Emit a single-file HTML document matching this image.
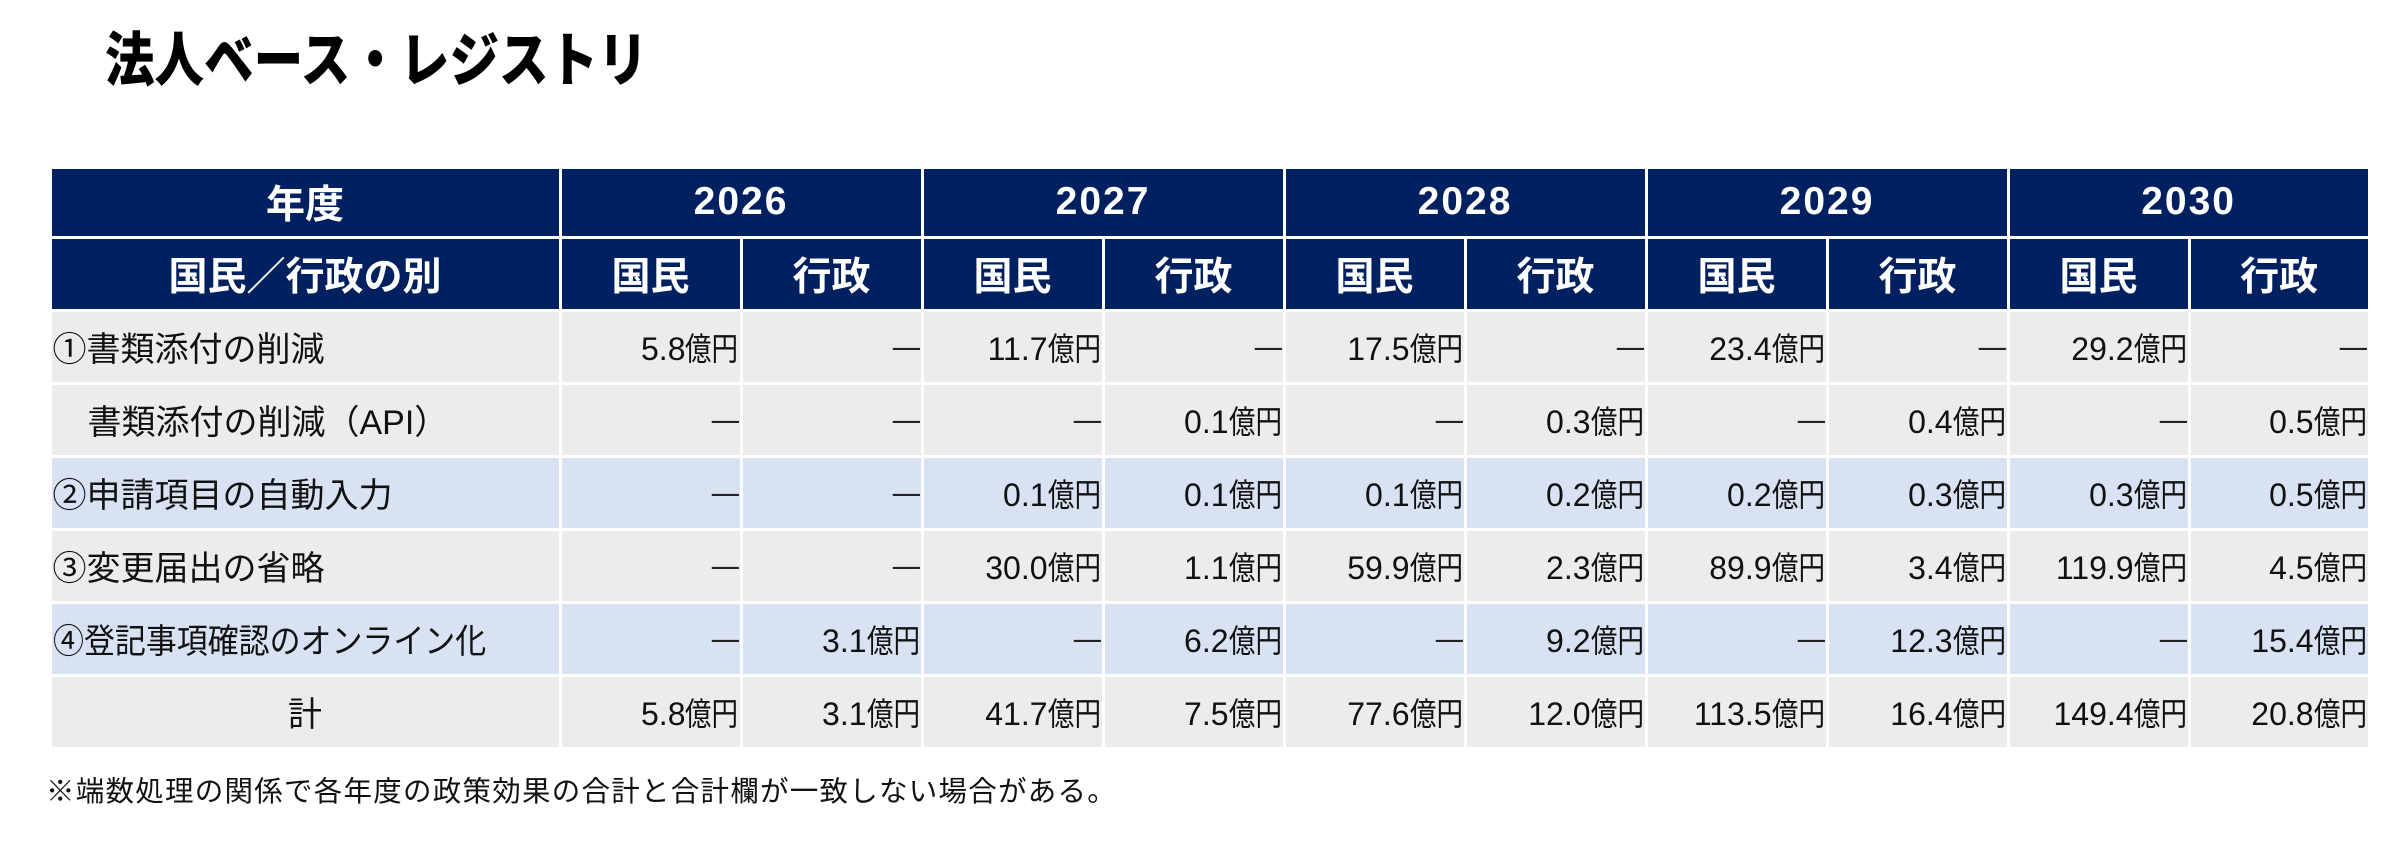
<!DOCTYPE html>
<html lang="ja">
<head>
<meta charset="utf-8">
<style>
  html, body { margin:0; padding:0; background:#ffffff; }
  body { width:2400px; height:849px; position:relative; overflow:hidden;
         font-family:"Liberation Sans","Noto Sans CJK JP",sans-serif; color:#111; }
  .title { position:absolute; left:105px; top:23px; font-family:"Liberation Sans","Noto Sans CJK JP",sans-serif;
           font-weight:900; font-size:59px; line-height:76px; white-space:nowrap; color:#000;
           transform:scaleX(0.84); transform-origin:left center; letter-spacing:0; }
  table { position:absolute; left:48.5px; top:165.5px; width:2319px; border-collapse:collapse; table-layout:fixed; }
  td { border:3px solid #ffffff; padding:0; overflow:hidden; white-space:nowrap; vertical-align:middle; }
  tr.h td { background:#002060; color:#fff; font-weight:700; text-align:center;
            font-family:"Liberation Sans","Noto Sans CJK JP",sans-serif; font-size:39px; }
  tr.h1 td { height:67px; }
  tr.h2 td { height:70px; }
  td.yr { font-family:"Liberation Sans",sans-serif; font-size:45px; letter-spacing:2px; }
  tr.d td { height:70px; background:#ececec; }
  tr.b td { background:#d9e2f3; }
  td.lab { font-family:"Liberation Sans","Noto Sans CJK JP",sans-serif; font-size:34px; text-align:left; padding-left:1px; color:#111; }
  td.ind { padding-left:36px; }
  td.ctr { text-align:center; padding-left:0; }
  .cond { display:inline-block; transform:scaleX(0.91); transform-origin:left center; }
  td.n { text-align:right; padding-right:1px; font-size:32px; color:#111; }
  .u { display:inline-block; font-family:"Noto Sans CJK JP",sans-serif; transform:scaleX(0.83); transform-origin:right center; margin-left:-11px; }
  .dash { display:inline-block; font-family:"Liberation Sans",sans-serif; font-size:32px; transform:scaleX(0.85); transform-origin:right center; color:#222; }
  .foot { position:absolute; left:46px; top:770px; font-family:"Noto Sans CJK JP",sans-serif; font-size:28.5px; line-height:40px; letter-spacing:1.25px; white-space:nowrap; color:#111; }
</style>
</head>
<body>
<div class="title">法人ベース・レジストリ</div>

<table>
  <colgroup>
    <col style="width:510px">
    <col style="width:181px"><col style="width:181px">
    <col style="width:181px"><col style="width:181px">
    <col style="width:181px"><col style="width:181px">
    <col style="width:181px"><col style="width:181px">
    <col style="width:181px"><col style="width:180px">
  </colgroup>
  <tr class="h h1">
    <td>年度</td>
    <td class="yr" colspan="2">2026</td>
    <td class="yr" colspan="2">2027</td>
    <td class="yr" colspan="2">2028</td>
    <td class="yr" colspan="2">2029</td>
    <td class="yr" colspan="2">2030</td>
  </tr>
  <tr class="h h2">
    <td>国民／行政の別</td>
    <td>国民</td><td>行政</td>
    <td>国民</td><td>行政</td>
    <td>国民</td><td>行政</td>
    <td>国民</td><td>行政</td>
    <td>国民</td><td>行政</td>
  </tr>
  <tr class="d">
    <td class="lab">①書類添付の削減</td>
    <td class="n">5.8<span class="u">億円</span></td><td class="n"><span class="dash">—</span></td>
    <td class="n">11.7<span class="u">億円</span></td><td class="n"><span class="dash">—</span></td>
    <td class="n">17.5<span class="u">億円</span></td><td class="n"><span class="dash">—</span></td>
    <td class="n">23.4<span class="u">億円</span></td><td class="n"><span class="dash">—</span></td>
    <td class="n">29.2<span class="u">億円</span></td><td class="n"><span class="dash">—</span></td>
  </tr>
  <tr class="d">
    <td class="lab ind">書類添付の削減（API）</td>
    <td class="n"><span class="dash">—</span></td><td class="n"><span class="dash">—</span></td>
    <td class="n"><span class="dash">—</span></td><td class="n">0.1<span class="u">億円</span></td>
    <td class="n"><span class="dash">—</span></td><td class="n">0.3<span class="u">億円</span></td>
    <td class="n"><span class="dash">—</span></td><td class="n">0.4<span class="u">億円</span></td>
    <td class="n"><span class="dash">—</span></td><td class="n">0.5<span class="u">億円</span></td>
  </tr>
  <tr class="d b">
    <td class="lab">②申請項目の自動入力</td>
    <td class="n"><span class="dash">—</span></td><td class="n"><span class="dash">—</span></td>
    <td class="n">0.1<span class="u">億円</span></td><td class="n">0.1<span class="u">億円</span></td>
    <td class="n">0.1<span class="u">億円</span></td><td class="n">0.2<span class="u">億円</span></td>
    <td class="n">0.2<span class="u">億円</span></td><td class="n">0.3<span class="u">億円</span></td>
    <td class="n">0.3<span class="u">億円</span></td><td class="n">0.5<span class="u">億円</span></td>
  </tr>
  <tr class="d">
    <td class="lab">③変更届出の省略</td>
    <td class="n"><span class="dash">—</span></td><td class="n"><span class="dash">—</span></td>
    <td class="n">30.0<span class="u">億円</span></td><td class="n">1.1<span class="u">億円</span></td>
    <td class="n">59.9<span class="u">億円</span></td><td class="n">2.3<span class="u">億円</span></td>
    <td class="n">89.9<span class="u">億円</span></td><td class="n">3.4<span class="u">億円</span></td>
    <td class="n">119.9<span class="u">億円</span></td><td class="n">4.5<span class="u">億円</span></td>
  </tr>
  <tr class="d b">
    <td class="lab"><span class="cond">④登記事項確認のオンライン化</span></td>
    <td class="n"><span class="dash">—</span></td><td class="n">3.1<span class="u">億円</span></td>
    <td class="n"><span class="dash">—</span></td><td class="n">6.2<span class="u">億円</span></td>
    <td class="n"><span class="dash">—</span></td><td class="n">9.2<span class="u">億円</span></td>
    <td class="n"><span class="dash">—</span></td><td class="n">12.3<span class="u">億円</span></td>
    <td class="n"><span class="dash">—</span></td><td class="n">15.4<span class="u">億円</span></td>
  </tr>
  <tr class="d">
    <td class="lab ctr">計</td>
    <td class="n">5.8<span class="u">億円</span></td><td class="n">3.1<span class="u">億円</span></td>
    <td class="n">41.7<span class="u">億円</span></td><td class="n">7.5<span class="u">億円</span></td>
    <td class="n">77.6<span class="u">億円</span></td><td class="n">12.0<span class="u">億円</span></td>
    <td class="n">113.5<span class="u">億円</span></td><td class="n">16.4<span class="u">億円</span></td>
    <td class="n">149.4<span class="u">億円</span></td><td class="n">20.8<span class="u">億円</span></td>
  </tr>
</table>

<div class="foot">※端数処理の関係で各年度の政策効果の合計と合計欄が一致しない場合がある。</div>
</body>
</html>
